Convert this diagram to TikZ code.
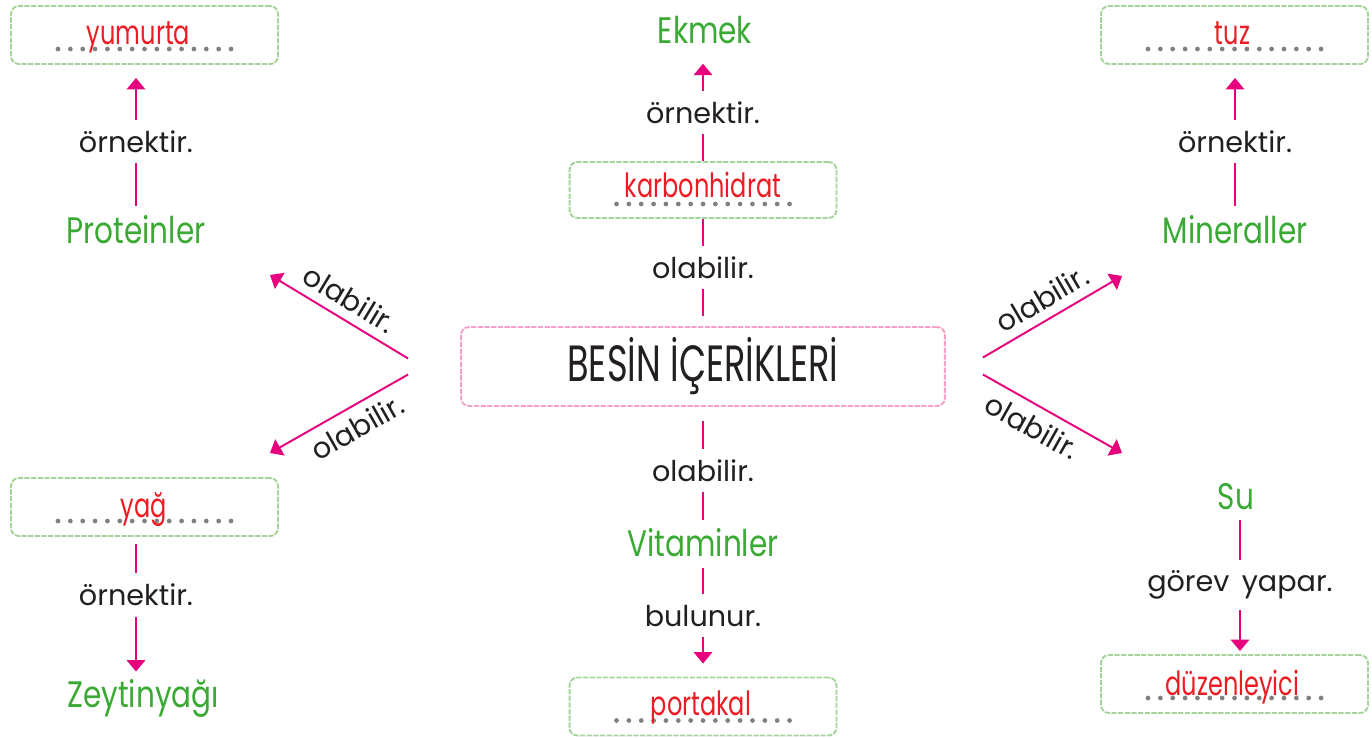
\documentclass[tikz,border=0pt]{standalone}
\usepackage{fontspec}
\setmainfont{Poppins}
\newfontfamily\redfont[FakeStretch=0.72]{Poppins}
\newfontfamily\titlefont[FakeStretch=0.69]{Poppins}
\newfontfamily\greenfont[FakeStretch=0.8]{Poppins}
\usetikzlibrary{arrows.meta,calc}
\definecolor{pinkline}{RGB}{230,0,126}
\definecolor{greentext}{RGB}{58,170,53}
\definecolor{redtext}{RGB}{237,28,36}
\definecolor{blacktext}{RGB}{35,31,32}
\definecolor{boxgreen}{RGB}{165,212,155}
\definecolor{boxpink}{RGB}{244,160,200}
\definecolor{dotgray}{RGB}{128,128,128}
% row of grey dots under the answer
\newcommand{\dotline}[1]{%
  \foreach \k in {0,...,14}
    \fill[dotgray] ($(#1.center)+(-86.5+12.36*\k,14)$) circle (1.35pt);}
\begin{document}
\begin{tikzpicture}[x=0.02cm, y=-0.02cm,
  gbox/.style={draw=boxgreen, line width=1.1pt, dash pattern=on 3pt off 0.8pt,
    rounded corners=4.5pt, minimum width=5.34cm, minimum height=1.16cm},
  pbox/.style={draw=boxpink, line width=1.1pt, dash pattern=on 3pt off 0.8pt,
    rounded corners=4.5pt, minimum width=9.68cm, minimum height=1.58cm},
  gword/.style={text=greentext, font=\greenfont\fontsize{21}{21}\selectfont,
    inner sep=0pt, anchor=base},
  rword/.style={text=redtext, font=\redfont\fontsize{19}{19}\selectfont,
    inner sep=0pt, anchor=base},
  lbl/.style={text=blacktext, font=\fontsize{16.3}{17}\selectfont,
    fill=white, inner xsep=2pt, inner ysep=6pt},
  slbl/.style={text=blacktext, font=\fontsize{16.3}{17}\selectfont,
    inner sep=5pt, sloped},
  link/.style={draw=pinkline, line width=1.1pt},
  arr/.style={link, -{Triangle[width=10.5pt,length=6.5pt]}}]
  \useasboundingbox (0,0) rectangle (1372,737);

  % centre
  \node[pbox] (besin) at (703,366.5) {};
  \node[text=blacktext, font=\titlefont\fontsize{29}{29}\selectfont, inner sep=0pt, anchor=base]
    (besinw) at (703,381) {BESİN İÇERİKLERİ};

  % answer boxes
  \node[gbox] (yum) at (144.5,35) {};
  \node[gbox, minimum height=1.12cm] (karb) at (703,190) {};
  \node[gbox] (tuz) at (1234.5,35) {};
  \node[gbox] (yag) at (144.5,507) {};
  \node[gbox] (port) at (703,706.5) {};
  \node[gbox] (duz) at (1234.5,684) {};
  \dotline{yum}
  \dotline{karb}
  \dotline{tuz}
  \dotline{yag}
  \dotline{port}
  \dotline{duz}
  \node[rword] (yumw) at ($(yum.center)+(-6,9)$) {yumurta};
  \node[rword] (karbw) at ($(karb.center)+(0,7)$) {karbonhidrat};
  \node[rword] (tuzw) at ($(tuz.center)+(-2,9)$) {tuz};
  \node[rword] (yagw) at ($(yag.center)+(-1,10)$) {yağ};
  \node[rword] (portw) at ($(port.center)+(-2,9)$) {portakal};
  \node[rword] (duzw) at ($(duz.center)+(-2,11)$) {düzenleyici};

  % green words
  \node[gword] (ekmek) at (705,43) {Ekmek};
  \node[gword] (prot) at (136,243) {Proteinler};
  \node[gword] (min) at (1235,243) {Mineraller};
  \node[gword] (vit) at (703,556) {Vitaminler};
  \node[gword] (su) at (1236,509) {Su};
  \node[gword] (zey) at (143,707) {Zeytinyağı};

  % free ends of the slanted arrows
  \coordinate (lu) at ($(besin.west)+(-52,-8)$);
  \coordinate (ld) at ($(besin.west)+(-52,8)$);
  \coordinate (ru) at ($(besin.east)+(37,-9)$);
  \coordinate (rd) at ($(besin.east)+(37,8)$);
  \coordinate (lutip) at (270,275);
  \coordinate (ldtip) at (270,453);
  \coordinate (rutip) at (1122,276);
  \coordinate (rdtip) at (1122,453);

  % centre column
  \draw[arr] (karb.north) -- ($(ekmek.south -| karb.north)+(0,20)$) node[lbl, midway] {örnektir.};
  \draw[link] ($(besin.north)+(0,-10)$) -- (karb.south) node[lbl, midway] {olabilir.};
  \draw[link] ($(besin.south)+(0,14)$) -- ($(vit.north)+(0,-8)$) node[lbl, midway] {olabilir.};
  \draw[arr] ($(vit.south)+(0,11)$) -- ($(port.north)+(0,-13)$) node[lbl, midway] {bulunur.};

  % left side
  \draw[arr] ($(prot.north)+(0,-9)$) -- ($(yum.south -| prot.north)+(0,13)$) node[lbl, midway] {örnektir.};
  \draw[arr] ($(yag.south -| prot.north)+(0,7)$) -- ($(zey.north -| prot.north)+(0,-7)$) node[lbl, pos=0.4] {örnektir.};
  \draw[arr] (lu) -- (lutip) node[slbl, above, midway] {olabilir.};
  \draw[arr] (ld) -- (ldtip) node[slbl, below, pos=0.44] {olabilir.};

  % right side
  \draw[arr] ($(min.north)+(0,-9)$) -- ($(tuz.south -| min.north)+(0,13)$) node[lbl, midway] {örnektir.};
  \draw[arr] ($(su.south)+(4,10)$) -- ($(duz.north -| su.south)+(4,-3)$) node[lbl, midway] {görev\, yapar.};
  \draw[arr] (ru) -- (rutip) node[slbl, above, midway] {olabilir.};
  \draw[arr] (rd) -- (rdtip) node[slbl, below, pos=0.43] {olabilir.};
\end{tikzpicture}
\end{document}
